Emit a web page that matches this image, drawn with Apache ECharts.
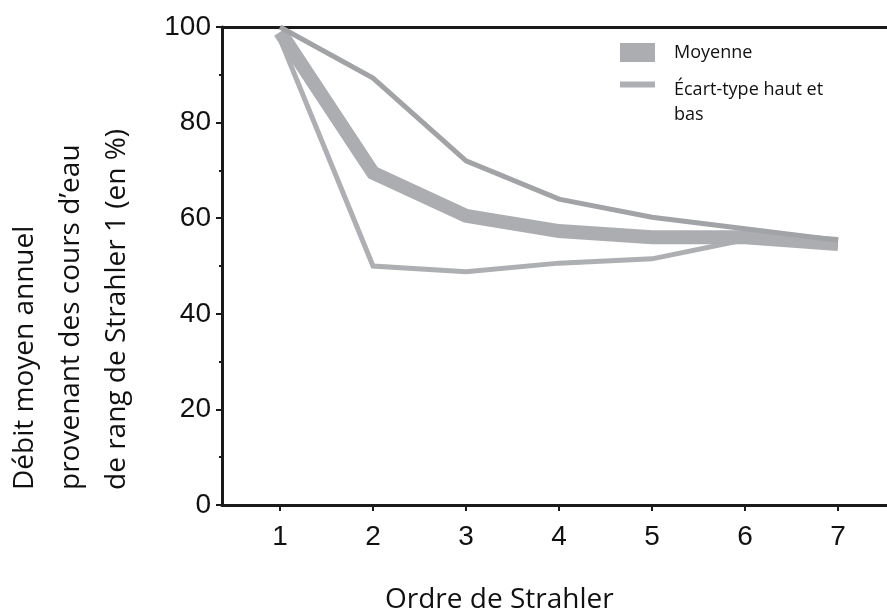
<!DOCTYPE html>
<html>
<head>
<meta charset="utf-8">
<script src="https://cdn.jsdelivr.net/npm/echarts@6/dist/echarts.min.js"></script>
<style>
  html, body { margin: 0; padding: 0; background: #fff; }
  #chart { width: 887px; height: 610px; }
</style>
</head>
<body>
<div id="chart"></div>
<script>
// Strahler order on x, % of mean annual flow on y
const orders = [1, 2, 3, 4, 5, 6, 7]
const moyenne = [99, 69.5, 60.5, 57.3, 56, 56, 54.6]
const ecartHaut = [100, 89.3, 72, 64, 60.2, 57.8, 55.4]
const ecartBas = [97.5, 50, 48.8, 50.6, 51.5, 55.5, 54]
const yTicks = [0, 20, 40, 60, 80, 100]

const titleFont = '"Open Sans", "Noto Sans", sans-serif'
const tickFont = '"Liberation Sans", Arial, sans-serif'
const axisColor = '#1a1a1a'

const pairs = (vals) => orders.map((o, i) => [o, vals[i]])

const chart = echarts.init(document.getElementById('chart'))

const lineSeries = (name, data, color, width, z) => ({
  name: name,
  type: 'line',
  data: pairs(data),
  symbol: 'none',
  clip: false,
  z: z,
  color: color,
  lineStyle: { color: color, width: width, join: 'miter', cap: 'butt' },
  emphasis: { disabled: true }
})

const xMin = 0.376
const xMax = 7.527

const options = {
  animation: false,
  grid: { left: 222, top: 27, right: 0, bottom: 105 },
  legend: [
    {
      left: 620, top: 43,
      padding: 0,
      icon: 'rect',
      itemWidth: 35, itemHeight: 19,
      data: ['Moyenne'],
      selectedMode: false,
      textStyle: { fontFamily: titleFont, fontSize: 18, color: '#111', padding: [0, 0, 0, 14] }
    },
    {
      left: 620, top: 77,
      padding: 0,
      // line at the top of a taller box so it sits beside the first text line
      icon: 'path://M0,0H35V6H0Z M0,40.9H0.1V41H0Z',
      itemWidth: 35, itemHeight: 41,
      data: ['Écart-type haut et bas'],
      selectedMode: false,
      formatter: () => 'Écart-type haut et\nbas',
      textStyle: { fontFamily: titleFont, fontSize: 18, lineHeight: 25, color: '#111', padding: [0, 0, 0, 14] }
    }
  ],
  xAxis: [
    {
      type: 'value',
      min: xMin,
      max: xMax,
      splitLine: { show: false },
      axisLine: { show: true, onZero: false, lineStyle: { color: axisColor, width: 3 } },
      axisTick: { show: true, length: 6, customValues: orders, lineStyle: { color: axisColor, width: 2 } },
      axisLabel: {
        customValues: orders,
        margin: 18,
        fontFamily: tickFont, fontSize: 28, color: '#111'
      }
    },
    {
      // top frame line
      type: 'value',
      position: 'top',
      min: xMin,
      max: xMax,
      splitLine: { show: false },
      axisLine: { show: true, onZero: false, lineStyle: { color: axisColor, width: 3 } },
      axisTick: { show: false },
      axisLabel: { show: false }
    }
  ],
  yAxis: {
    type: 'value',
    min: 0,
    max: 100,
    interval: 20,
    splitLine: { show: false },
    axisLine: { show: true, lineStyle: { color: axisColor, width: 3 } },
    axisTick: { show: true, length: 6, lineStyle: { color: axisColor, width: 2 } },
    minorTick: { show: true, splitNumber: 2, length: 3, lineStyle: { color: axisColor, width: 2 } },
    axisLabel: {
      customValues: yTicks,
      margin: 11,
      fontFamily: tickFont, fontSize: 28, color: '#111'
    }
  },
  graphic: [
    {
      type: 'text', x: 385, y: 600,
      style: { text: 'Ordre de Strahler', font: '28px ' + titleFont, fill: '#111', textAlign: 'left', textVerticalAlign: 'middle' }
    },
    {
      type: 'text', x: 25, y: 490, rotation: Math.PI / 2,
      style: { text: 'Débit moyen annuel', font: '28px ' + titleFont, fill: '#111', textAlign: 'left', textVerticalAlign: 'middle' }
    },
    {
      type: 'text', x: 71, y: 490, rotation: Math.PI / 2,
      style: { text: 'provenant des cours d\u2019eau', font: '28px ' + titleFont, fill: '#111', textAlign: 'left', textVerticalAlign: 'middle' }
    },
    {
      type: 'text', x: 117, y: 490, rotation: Math.PI / 2,
      style: { text: 'de rang de Strahler 1 (en %)', font: '28px ' + titleFont, fill: '#111', textAlign: 'left', textVerticalAlign: 'middle' }
    }
  ],
  series: [
    lineSeries('Écart-type haut et bas', ecartBas, '#aeafb3', 5, 2),
    lineSeries('Moyenne', moyenne, '#acadb0', 14, 3),
    lineSeries('Écart-type haut et bas', ecartHaut, '#a2a3a7', 5, 4)
  ]
}

chart.setOption(options)
window.addEventListener('resize', function () {
  chart.resize()
})
</script>
</body>
</html>
